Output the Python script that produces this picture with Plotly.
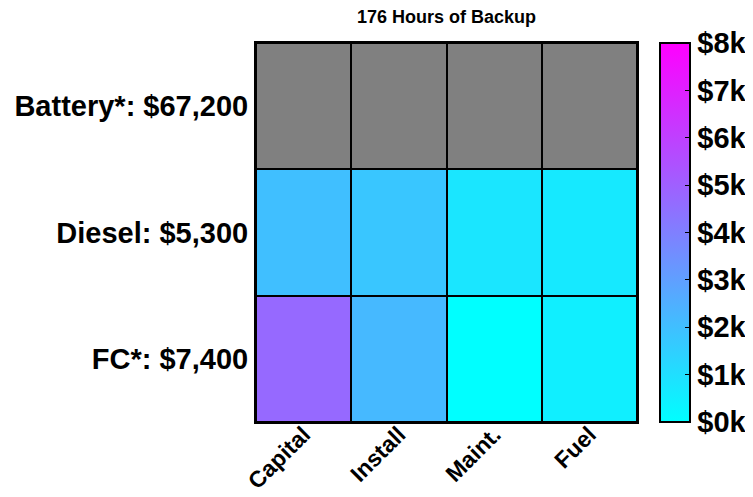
import plotly.graph_objects as go

categories = ["Capital", "Install", "Maint.", "Fuel"]
rows = ["Battery*: $67,200", "Diesel: $5,300", "FC*: $7,400"]
battery = [45000, 12000, 4200, 6000]
diesel = [2000, 1800, 800, 700]
fc = [4700, 2200, 0, 500]
cbar_vals = [0, 1000, 2000, 3000, 4000, 5000, 6000, 7000, 8000]
cbar_text = ["$0k", "$1k", "$2k", "$3k", "$4k", "$5k", "$6k", "$7k", "$8k"]

FONT = "Liberation Sans, Arial, sans-serif"
cool = [[0, "rgb(0,255,255)"], [1, "rgb(255,0,255)"]]

# page body has an 8px default margin; figure is sized to fit inside
OFF = 8
W, H = 753 - OFF, 497 - OFF
L, R, T, B = 256 - OFF, 637 - OFF, 43 - OFF, 422 - OFF
PW = R - L

fig = go.Figure()
fig.add_trace(go.Heatmap(
    x=categories, y=rows[1:], z=[diesel, fc],
    colorscale=cool, zmin=0, zmax=8000, xgap=2, ygap=2,
    colorbar=dict(
        tickvals=cbar_vals, ticktext=cbar_text,
        tickfont=dict(family=FONT, size=29, color="black", weight="bold"),
        thickness=30, len=1, lenmode="fraction", y=0.5, yanchor="middle", ypad=0,
        x=(660 - OFF - L) / PW, xanchor="left", xpad=0,
        outlinecolor="black", outlinewidth=2,
        ticks="inside", ticklen=6, tickcolor="black",
    ),
))
fig.add_trace(go.Heatmap(
    x=categories, y=rows[:1], z=[battery],
    colorscale=[[0, "rgb(128,128,128)"], [1, "rgb(128,128,128)"]],
    showscale=False, xgap=2, ygap=2,
))

fig.update_layout(
    width=W, height=H,
    margin=dict(l=L, r=W - R, t=T, b=H - B, autoexpand=False),
    paper_bgcolor="white", plot_bgcolor="black",
    title=dict(text="176 Hours of Backup", x=((256 + 637) / 2 - OFF) / W, xanchor="center",
               y=1 - (17 - OFF) / H, yanchor="middle",
               font=dict(family=FONT, size=18, color="black", weight="bold")),
    xaxis=dict(tickangle=-45, tickfont=dict(family=FONT, size=23, color="black", weight="bold"),
               ticklabelstandoff=-12,
               showline=True, mirror=True, linecolor="black", linewidth=2,
               ticks="", showgrid=False, zeroline=False, automargin=False),
    yaxis=dict(categoryorder="array", categoryarray=rows, autorange="reversed",
               tickfont=dict(family=FONT, size=29, color="black", weight="bold"),
               showline=True, mirror=True, linecolor="black", linewidth=2,
               ticks="", showgrid=False, zeroline=False, automargin=False),
)
fig.write_html("out.html")
